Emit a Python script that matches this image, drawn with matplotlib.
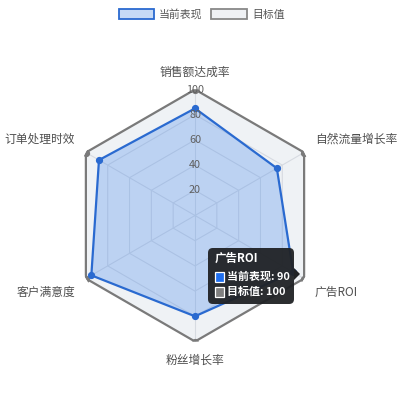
import numpy as np
import matplotlib
matplotlib.use("Agg")
import matplotlib.pyplot as plt
from matplotlib.patches import Patch, FancyBboxPatch, Rectangle, Polygon

plt.rcParams['font.family'] = ['Noto Sans CJK SC', 'DejaVu Sans']

categories = ["销售额达成率", "自然流量增长率", "广告ROI", "粉丝增长率", "客户满意度", "订单处理时效"]
current = [85, 75, 90, 80, 95, 88]
target = [100, 100, 100, 100, 100, 100]
series_names = ["当前表现", "目标值"]
rticks = [20, 40, 60, 80, 100]
tooltip_idx = 2

BLUE, BLUE_FILL = "#2a6ad0", "#3b82ec"
GRAY, GRAY_FILL = "#7a7a7a", "#c9d1dc"

W = H = 404
fig = plt.figure(figsize=(W / 100, H / 100), dpi=100)
cx, cy, R = 195 / W, 1 - 215.5 / H, 126 / W
ax = fig.add_axes([cx - R, cy - R, 2 * R, 2 * R], projection="polar")
ax.set_theta_offset(np.pi / 2); ax.set_theta_direction(-1)
ax.set_ylim(0, 100)
ax.grid(False); ax.spines["polar"].set_visible(False)
ax.set_xticks([]); ax.set_yticks([]); ax.patch.set_alpha(0)

n = len(categories)
th = np.linspace(0, 2 * np.pi, n, endpoint=False)
thc = np.append(th, th[0])

# hexagon grid + spokes
for v in rticks:
    ax.plot(thc, [v] * (n + 1), color="#dcdfe4", lw=0.8, zorder=1)
for t in th:
    ax.plot([t, t], [0, 100], color="#dcdfe4", lw=0.8, zorder=1)

# target
tc = np.append(target, target[0])
ax.fill(thc, tc, color=GRAY_FILL, alpha=0.28, lw=0, zorder=2)
ax.plot(thc, tc, color=GRAY, lw=1.6, zorder=3)
ax.plot(th, target, "o", color=GRAY, ms=4.2, zorder=4)

# current
cc = np.append(current, current[0])
ax.fill(thc, cc, color=BLUE_FILL, alpha=0.28, lw=0, zorder=5)
ax.plot(thc, cc, color=BLUE, lw=1.6, zorder=6)
ax.plot(th, current, "o", color=BLUE, ms=4.2, zorder=7)

for v in rticks:
    ax.text(0, v, str(v), ha="center", va="center", fontsize=7.8, color="#606060", zorder=8)

offs = [(0, 17, "center"), (11, 13, "left"), (10, -14, "left"),
        (0, -19, "center"), (-11, -14, "right"), (-11, 13, "right")]
for t, lab, (dx, dy, ha) in zip(th, categories, offs):
    ax.annotate(lab, xy=(t, 100), xytext=(dx, dy), textcoords="offset pixels",
                ha=ha, va="center", fontsize=8.5, color="#4f4f4f", annotation_clip=False)

# legend
handles = [Patch(facecolor="#c6daf6", edgecolor=BLUE, lw=1.3),
           Patch(facecolor="#eff1f4", edgecolor="#888888", lw=1.3)]
fig.legend(handles, series_names, loc="center", bbox_to_anchor=(0.499, 1 - 14.5 / H), ncol=2,
           frameon=False, fontsize=7.8, handlelength=3.3, handleheight=1.0,
           handletextpad=0.45, columnspacing=0.8, labelcolor="#555555")

# tooltip
def px(x, y):
    return x / W, 1 - y / H
x0, y0, x1, y1 = 208, 248, 294, 304
fig.patches.append(FancyBboxPatch(px(x0, y1), (x1 - x0) / W, (y1 - y0) / H,
                                  boxstyle="round,pad=0,rounding_size=0.012",
                                  transform=fig.transFigure, facecolor="#202225",
                                  edgecolor="none", alpha=0.95, zorder=20))
fig.patches.append(Polygon([px(x1, 268), px(x1 + 6, 274), px(x1, 280)], closed=True,
                           transform=fig.transFigure, facecolor="#202225", edgecolor="none", zorder=20))
fig.text(*px(215, 258), categories[tooltip_idx], color="white", fontsize=8.3, fontweight="bold",
         ha="left", va="center", zorder=21)
for k, (name, vals, col) in enumerate(zip(series_names, [current, target], ["#1f6ff0", "#808080"])):
    yy = 277 + 15 * k
    fig.patches.append(Rectangle(px(215, yy + 5), 9 / W, 10 / H, transform=fig.transFigure,
                                 facecolor=col, edgecolor="white", lw=0.9, zorder=21))
    fig.text(*px(227, yy), f"{name}: {vals[tooltip_idx]}", color="white", fontsize=7.9,
             fontweight="bold", ha="left", va="center", zorder=21)

fig.savefig("out.png", dpi=100)
